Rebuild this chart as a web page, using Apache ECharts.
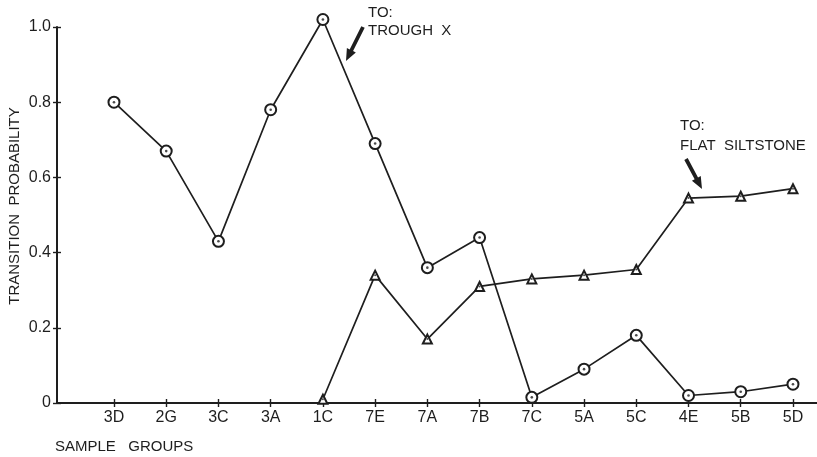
<!DOCTYPE html>
<html>
<head>
<meta charset="utf-8">
<script src="https://cdn.jsdelivr.net/npm/echarts@6/dist/echarts.min.js"></script>
<style>
  html, body { margin: 0; padding: 0; background: #fff; }
  #chart { width: 817px; height: 457px; }
</style>
</head>
<body>
<div id="chart"></div>
<script>
// Sample groups along the horizontal axis
const sampleGroups = ['3D', '2G', '3C', '3A', '1C', '7E', '7A', '7B', '7C', '5A', '5C', '4E', '5B', '5D'];
// Transition probability to trough X (circles)
const toTroughX = [0.80, 0.67, 0.43, 0.78, 1.02, 0.69, 0.36, 0.44, 0.015, 0.09, 0.18, 0.02, 0.03, 0.05];
// Transition probability to flat siltstone (triangles); no value before 1C
const toFlatSiltstone = [null, null, null, null, 0.01, 0.34, 0.17, 0.31, 0.33, 0.34, 0.355, 0.545, 0.55, 0.57];
// Probability axis ticks
const probTicks = [0, 0.2, 0.4, 0.6, 0.8, 1.0];

const INK = '#1e1e1e';
const FONT = "'Liberation Sans', Arial, Helvetica, sans-serif";

const chart = echarts.init(document.getElementById('chart'), null, { renderer: 'canvas' });

const toPoints = arr => arr.map((v, i) => [i, v]).filter(p => p[1] !== null);
const groupIdx = sampleGroups.map((_, i) => i);

// Thick annotation arrow as a polygon from tail to tip
function arrowShape(x1, y1, x2, y2) {
  const dx = x2 - x1, dy = y2 - y1, L = Math.hypot(dx, dy);
  const ux = dx / L, uy = dy / L, nx = -uy, ny = ux;
  const headLen = 12, headW = 5, shaftW = 1.9;
  const bx = x2 - ux * headLen, by = y2 - uy * headLen;
  return [
    [x1 + nx * shaftW, y1 + ny * shaftW],
    [bx + nx * shaftW, by + ny * shaftW],
    [bx + nx * headW, by + ny * headW],
    [x2, y2],
    [bx - nx * headW, by - ny * headW],
    [bx - nx * shaftW, by - ny * shaftW],
    [x1 - nx * shaftW, y1 - ny * shaftW]
  ];
}

function label(text, x, y, extra) {
  return Object.assign({
    type: 'text', x: x, y: y, silent: true,
    style: { text: text, fill: INK, font: '15px ' + FONT, textVerticalAlign: 'middle' }
  }, extra || {});
}

const xRange = { min: -1.091, max: 13.46 };

const option = {
  backgroundColor: '#ffffff',
  animation: false,
  grid: { left: 57, right: 0, top: 27, bottom: 54, containLabel: false },
  xAxis: [
    {
      type: 'value', min: xRange.min, max: xRange.max,
      axisLine: { show: true, onZero: false, lineStyle: { color: INK, width: 2 } },
      axisTick: { show: true, inside: false, length: 4, customValues: groupIdx, lineStyle: { color: INK, width: 1.4 } },
      axisLabel: {
        show: true, customValues: groupIdx, margin: 7,
        color: INK, fontSize: 16, fontFamily: FONT,
        formatter: v => sampleGroups[Math.round(v)] || ''
      },
      splitLine: { show: false }
    },
    {
      type: 'value', min: xRange.min, max: xRange.max, position: 'bottom', offset: 0,
      axisLine: { show: false, onZero: false },
      axisTick: { show: true, inside: true, length: 4, customValues: groupIdx, lineStyle: { color: INK, width: 1.4 } },
      axisLabel: { show: false },
      splitLine: { show: false }
    }
  ],
  yAxis: [
    {
      type: 'value', min: 0, max: 1.0, interval: 0.2,
      axisLine: { show: true, onZero: false, lineStyle: { color: INK, width: 2 } },
      axisTick: { show: true, inside: false, length: 4, lineStyle: { color: INK, width: 1.4 } },
      axisLabel: {
        show: true, margin: 6, color: INK, fontSize: 16, fontFamily: FONT,
        customValues: probTicks,
        formatter: v => (v === 0 ? '0' : v.toFixed(1))
      },
      splitLine: { show: false }
    },
    {
      type: 'value', min: 0, max: 1.0, interval: 0.2, position: 'left', offset: 0,
      axisLine: { show: false, onZero: false },
      axisTick: { show: true, inside: true, length: 4, lineStyle: { color: INK, width: 1.4 } },
      axisLabel: { show: false },
      splitLine: { show: false }
    }
  ],
  series: [
    {
      name: 'TO: TROUGH X', type: 'line', xAxisIndex: 0, yAxisIndex: 0,
      data: toPoints(toTroughX), clip: false, z: 3,
      symbol: 'emptyCircle', symbolSize: 11,
      lineStyle: { color: INK, width: 1.7 },
      itemStyle: { color: INK, borderColor: INK, borderWidth: 1.4 }
    },
    {
      name: 'trough centres', type: 'scatter', xAxisIndex: 0, yAxisIndex: 0,
      data: toPoints(toTroughX), clip: false, z: 4, silent: true,
      symbol: 'circle', symbolSize: 2.6, itemStyle: { color: INK }
    },
    {
      name: 'TO: FLAT SILTSTONE', type: 'line', xAxisIndex: 0, yAxisIndex: 0,
      data: toPoints(toFlatSiltstone), clip: false, z: 3,
      symbol: 'emptyTriangle', symbolSize: 9,
      lineStyle: { color: INK, width: 1.7 },
      itemStyle: { color: INK, borderColor: INK, borderWidth: 1.4 }
    },
    {
      name: 'siltstone centres', type: 'scatter', xAxisIndex: 0, yAxisIndex: 0,
      data: toPoints(toFlatSiltstone), clip: false, z: 4, silent: true,
      symbol: 'circle', symbolSize: 2, itemStyle: { color: INK }
    }
  ],
  graphic: [
    label('TRANSITION  PROBABILITY', 15, 206, {
      rotation: Math.PI / 2,
      style: { text: 'TRANSITION  PROBABILITY', fill: INK, font: '15px ' + FONT, textAlign: 'center', textVerticalAlign: 'middle' }
    }),
    label('SAMPLE   GROUPS', 55, 447),
    label('TO:', 368, 13),
    label('TROUGH  X', 368, 31),
    label('TO:', 680, 126),
    label('FLAT  SILTSTONE', 680, 146),
    { type: 'polygon', silent: true, shape: { points: arrowShape(363, 27, 346, 61) }, style: { fill: INK } },
    { type: 'polygon', silent: true, shape: { points: arrowShape(686, 159, 702, 189) }, style: { fill: INK } }
  ]
};

chart.setOption(option);
</script>
</body>
</html>
